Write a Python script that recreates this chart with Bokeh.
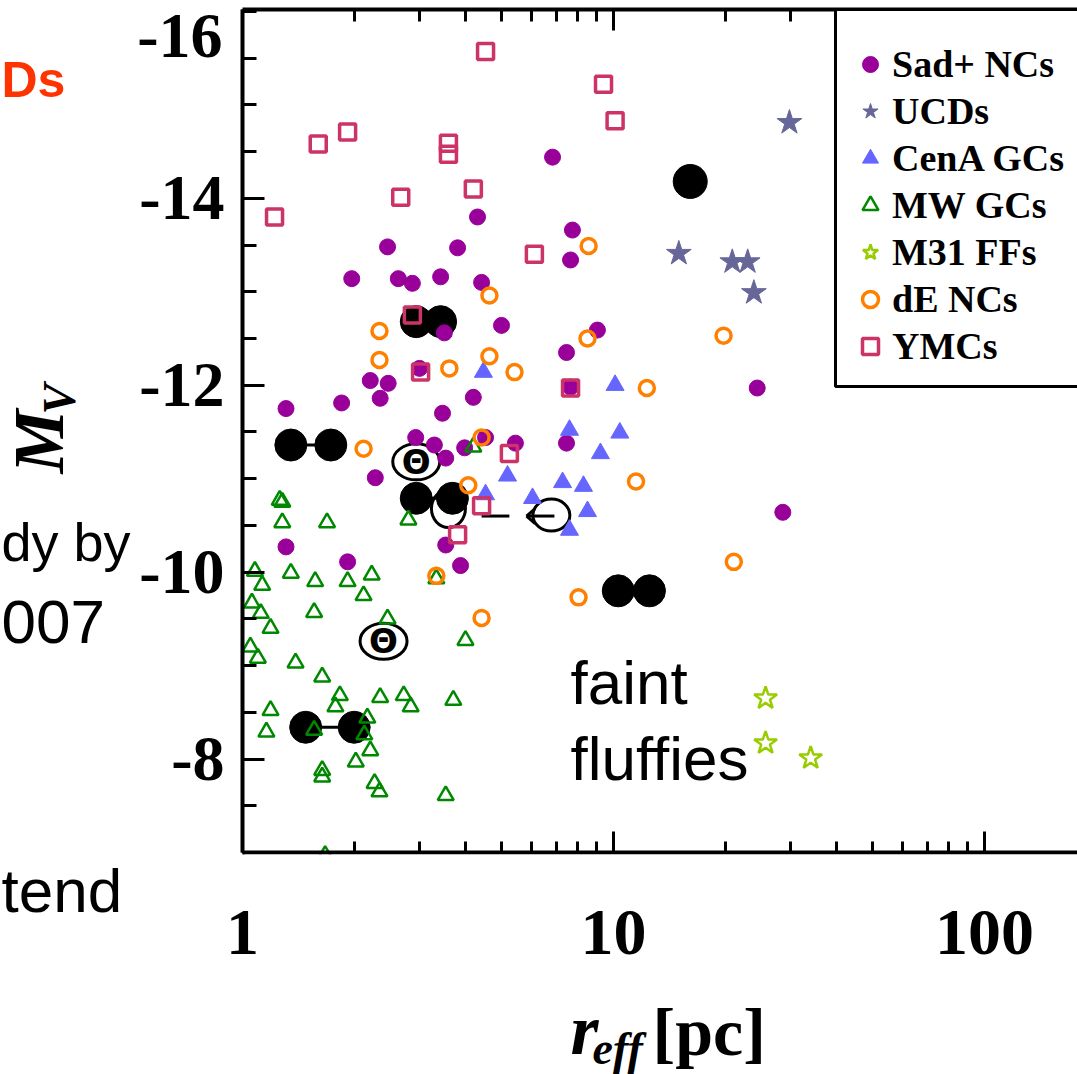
from bokeh.plotting import figure
from bokeh.models import (Range1d, FixedTicker, LogAxis, Label, Legend, LegendItem,
                          BasicTickFormatter, PrintfTickFormatter, BoxAnnotation)
from bokeh.core.properties import value
from bokeh.embed import file_html
from bokeh.resources import INLINE
import math

# ---------------- data (r_eff [pc], M_V) ----------------
sad_r = [6.85, 4.30, 7.75, 2.46, 3.80, 7.66, 1.97, 2.63, 2.87, 3.42, 4.41, 4.99, 3.50, 9.05, 7.47,
         3.00, 7.66, 2.21, 2.47, 2.35, 1.31, 1.85, 4.19, 3.46, 2.93, 3.29, 3.53, 3.97, 4.52, 5.44,
         7.47, 2.28, 3.53, 3.87, 24.4, 28.6, 1.31, 1.92]
sad_m = [-14.44, -13.80, -13.66, -13.48, -13.47, -13.34, -13.14, -13.14, -13.09, -13.16, -13.10,
         -12.64, -12.56, -12.59, -12.35, -12.18, -11.98, -12.05, -12.02, -11.86, -11.75, -11.81,
         -11.87, -11.70, -11.44, -11.36, -11.22, -11.33, -11.44, -11.38, -11.38, -11.01, -10.29,
         -10.07, -11.97, -10.64, -10.27, -10.11]

ucd_r = [29.8, 15.0, 20.9, 23.0, 23.9]
ucd_m = [-14.81, -13.41, -13.32, -13.32, -12.99]

cena_r = [4.46, 10.1, 7.61, 10.4, 9.22, 5.18, 7.29, 8.30, 4.52, 6.05, 8.51, 7.61]
cena_m = [-12.14, -12.00, -11.52, -11.49, -11.27, -11.03, -10.96, -10.92, -10.83, -10.79, -10.65, -10.45]

mw_r = [1.28, 1.26, 1.28, 1.69, 2.80, 4.19, 1.08, 1.13, 1.35, 1.57, 1.92, 2.23, 2.12, 3.33, 1.06,
        1.12, 1.56, 1.19, 2.46, 1.05, 1.10, 1.39, 3.99, 1.64, 1.83, 1.78, 2.35, 2.72, 2.84, 3.70,
        1.19, 1.16, 1.56, 2.17, 2.13, 2.21, 2.02, 1.64, 1.64, 2.27, 2.34, 3.53, 1.67]
mw_m = [-10.75, -10.77, -10.53, -10.53, -10.56, -11.34, -10.01, -9.86, -9.99, -9.90, -9.90, -9.97,
        -9.75, -9.93, -9.67, -9.56, -9.57, -9.40, -9.50, -9.20, -9.08, -9.03, -9.27, -8.88, -8.68,
        -8.56, -8.66, -8.68, -8.56, -8.63, -8.52, -8.29, -8.31, -8.44, -8.26, -8.09, -7.97, -7.88,
        -7.81, -7.74, -7.65, -7.61, -6.97]

m31_r = [25.7, 25.7, 34.0]
m31_m = [-8.65, -8.17, -8.01]

de_r = [8.57, 4.63, 2.34, 8.51, 19.8, 2.34, 3.61, 4.63, 5.41, 2.12, 4.41, 4.06, 12.3, 11.5, 3.33,
        8.05, 4.41, 21.1]
de_m = [-13.49, -12.96, -12.58, -12.50, -12.53, -12.27, -12.18, -12.31, -12.14, -11.32, -11.44,
        -10.93, -11.97, -10.97, -9.96, -9.73, -9.51, -10.11]

ymc_r = [4.52, 9.40, 10.1, 1.60, 1.92, 3.59, 3.59, 1.22, 2.67, 4.19, 6.12, 2.87, 3.02, 7.66, 5.24,
         4.41, 3.80]
ymc_m = [-15.57, -15.22, -14.83, -14.58, -14.71, -14.59, -14.47, -13.80, -14.01, -14.10, -13.40,
         -12.75, -12.14, -11.97, -11.27, -10.71, -10.40]

# model objects (black): connected pairs and a single one
pair_r1 = [1.35, 2.94, 2.94, 10.3, 1.48]
pair_r2 = [1.73, 3.42, 3.68, 12.5, 2.00]
pair_m = [-11.36, -12.68, -10.79, -9.80, -8.34]
single_r = [16.1]
single_m = [-14.18]

theta_r = [2.94, 2.40]
theta_m = [-11.18, -9.26]
arrowc_r = [6.80]
arrowc_m = [-10.61]
hidden_r = [3.59]
hidden_m = [-10.68]
track_r = [4.41, 5.24]
track_m = -10.60
arrow_r = [5.83, 6.93]
head_r = [6.15, 6.15]
head_m = [-10.52, -10.68]

legend_labels = ["Sad+ NCs", "UCDs", "CenA GCs", "MW GCs", "M31 FFs", "dE NCs", "YMCs"]
x_major = [1, 10, 100]
x_minor = [2, 3, 4, 5, 6, 7, 8, 9, 20, 30, 40, 50, 60, 70, 80, 90]
y_major = [-14, -12, -10, -8]
y_minor = [-16.0 + 0.5 * i for i in range(19)]

# ---------------- figure (frame = whole canvas; axes at fixed locations) ----------------
W, H = 1077, 1074
R_MIN, R_MAX = 1.0, 178.1          # plotted box in data units
M_FAINT, M_BRIGHT = -7.0, -16.02
PX_DEC = 371.0                      # px per decade
PX_MAG = 93.459                     # px per magnitude
BOX_L, BOX_T = 242, 9               # box left / top on canvas
x0 = 10 ** (-BOX_L / PX_DEC)
x1 = 10 ** ((W - BOX_L) / PX_DEC)
y_top = M_BRIGHT - BOX_T / PX_MAG
y_bot = M_BRIGHT + (H - BOX_T) / PX_MAG

p = figure(width=W, height=H, x_axis_type="log",
           x_range=Range1d(x0, x1), y_range=Range1d(y_bot, y_top),
           output_backend="svg", toolbar_location=None,
           min_border=0, min_border_left=0, min_border_right=0, min_border_top=0, min_border_bottom=0)
p.outline_line_color = None
p.grid.visible = False
p.background_fill_color = "white"
p.border_fill_color = "white"

serif = "Liberation Serif"
sans = "Liberation Sans"

xa = p.xaxis[0]
xa.fixed_location = M_FAINT
xa.bounds = (R_MIN, R_MAX)
xa.ticker = FixedTicker(ticks=x_major, minor_ticks=x_minor)
xa.formatter = BasicTickFormatter()
xa.axis_line_width = 4
xa.axis_line_color = "black"
xa.major_tick_in = 21
xa.major_tick_out = 0
xa.minor_tick_in = 11
xa.minor_tick_out = 0
xa.major_tick_line_width = 3
xa.minor_tick_line_width = 3
xa.major_label_standoff = 58
xa.major_label_text_font = serif
xa.major_label_text_font_style = "bold"
xa.major_label_text_font_size = "66px"
xa.major_label_text_color = "black"

ya = p.yaxis[0]
ya.fixed_location = R_MIN
ya.bounds = (M_BRIGHT, M_FAINT)
ya.ticker = FixedTicker(ticks=y_major, minor_ticks=y_minor)
ya.formatter = PrintfTickFormatter(format="%d")
ya.axis_line_width = 4
ya.axis_line_color = "black"
ya.major_tick_in = 22
ya.major_tick_out = 0
ya.minor_tick_in = 14
ya.minor_tick_out = 0
ya.major_tick_line_width = 3
ya.minor_tick_line_width = 3
ya.major_label_standoff = 18
ya.major_label_text_font = serif
ya.major_label_text_font_style = "bold"
ya.major_label_text_font_size = "64px"
ya.major_label_text_color = "black"

top = LogAxis(ticker=FixedTicker(ticks=x_major, minor_ticks=x_minor),
              fixed_location=M_BRIGHT, bounds=(R_MIN, R_MAX),
              major_label_text_font_size="1px", major_label_text_color=None,
              major_label_standoff=0,
              axis_line_width=4, axis_line_color="black", major_tick_in=21, major_tick_out=0,
              minor_tick_in=12, minor_tick_out=0,
              major_tick_line_width=3, minor_tick_line_width=3)
p.add_layout(top, "above")

# ---------------- model objects ----------------
p.ellipse(x=hidden_r, y=hidden_m, width=34, height=38, width_units="screen", height_units="screen",
          fill_color=None, line_color="black", line_width=3)
p.segment(x0=pair_r1, y0=pair_m, x1=pair_r2, y1=pair_m, line_color="black", line_width=3)
p.scatter(pair_r1, pair_m, marker="circle", size=32, color="black")
p.scatter(pair_r2, pair_m, marker="circle", size=32, color="black")
p.scatter(single_r, single_m, marker="circle", size=34, color="black")

p.ellipse(x=theta_r, y=theta_m, width=47, height=36, width_units="screen", height_units="screen",
          fill_color=None, line_color="black", line_width=3)
p.text(x=theta_r, y=theta_m, text=["\u0398", "\u0398"], text_align="center", text_baseline="middle",
       text_font=value("DejaVu Sans"), text_font_style="bold", text_font_size=value("34px"),
       text_color="black")
p.ellipse(x=arrowc_r, y=arrowc_m, width=37, height=32, width_units="screen", height_units="screen",
          fill_color=None, line_color="black", line_width=3)
p.line(track_r, [track_m, track_m], line_color="black", line_width=3)
p.line(arrow_r, [track_m, track_m], line_color="black", line_width=3)
p.segment(x0=[arrow_r[0], arrow_r[0]], y0=[track_m, track_m], x1=head_r, y1=head_m,
          line_color="black", line_width=3)

# ---------------- data series ----------------
r_sad = p.scatter(sad_r, sad_m, marker="circle", size=16, color="#990099")
r_ucd = p.scatter(ucd_r, ucd_m, marker="star", size=26, color="#666699")
r_cena = p.scatter(cena_r, cena_m, marker="triangle", size=18, color="#6666FF")
r_mw = p.scatter(mw_r, mw_m, marker="triangle", size=16, fill_color=None,
                 line_color="#008800", line_width=2.5)
r_m31 = p.scatter(m31_r, m31_m, marker="star", size=24, fill_color=None,
                  line_color="#99CC00", line_width=2.5)
r_de = p.scatter(de_r, de_m, marker="circle", size=15, fill_color=None,
                 line_color="#FF8000", line_width=3.5)
r_ymc = p.scatter(ymc_r, ymc_m, marker="square", size=16, fill_color=None,
                  line_color="#CC3366", line_width=3.5)

# mask anything spilling below the bottom axis (the original box clips its points)
p.add_layout(BoxAnnotation(left=BOX_L + 2, right=W, top=H - 854, bottom=H - 880,
                           left_units="screen", right_units="screen",
                           top_units="screen", bottom_units="screen",
                           fill_color="white", fill_alpha=1.0, line_alpha=0.0))

# legend frame, then the legend itself
p.add_layout(BoxAnnotation(left=835, right=W + 30, top=H - 9, bottom=H - 386,
                           left_units="screen", right_units="screen",
                           top_units="screen", bottom_units="screen",
                           fill_color="white", fill_alpha=1.0,
                           line_color="black", line_alpha=1.0, line_width=3))
rends = [r_sad, r_ucd, r_cena, r_mw, r_m31, r_de, r_ymc]
legend = Legend(items=[LegendItem(label=l, renderers=[r]) for l, r in zip(legend_labels, rends)],
                location=(850, H - 368), margin=0, padding=16, spacing=3,
                glyph_width=40, glyph_height=40, label_standoff=2,
                label_text_font=serif, label_text_font_style="bold", label_text_font_size="38px",
                label_text_color="black",
                border_line_color=None, background_fill_alpha=0.0)
p.add_layout(legend)

# ---------------- texts ----------------
SHIFT = 0.39  # bokeh places alphabetic-baseline labels this fraction of the size lower


def lab(text, cx, cy, size, font=sans, style="normal", color="black", align="left",
        baseline="alphabetic", angle=0.0):
    if baseline == "alphabetic":
        if angle:
            cx -= SHIFT * size
        else:
            cy -= SHIFT * size
    p.add_layout(Label(x=cx, y=H - cy, x_units="screen", y_units="screen", text=text,
                       text_font=font, text_font_style=style, text_font_size=f"{size}px",
                       text_color=color, text_align=align, text_baseline=baseline, angle=angle))

lab("faint", 570, 706, 62)
lab("fluffies", 570, 782, 62)
lab("Ds", 1, 99, 50, style="bold", color="#FF3300")
lab("dy by", 1, 563, 54)
lab("007", 1, 646, 62)
lab("tend", 1, 914, 62)
lab("-16", 222, 35, 64, font=serif, style="bold", align="right", baseline="middle")
# axis titles
lab("r", 570, 1058, 72, font=serif, style="bold italic")
lab("eff", 592, 1066, 46, font=serif, style="bold italic")
lab("[pc]", 652, 1058, 68, font=serif, style="bold")
lab("M", 67, 473, 72, font=serif, style="bold italic", angle=math.pi / 2)
lab("V", 77, 414, 46, font=serif, style="bold italic", angle=math.pi / 2)

open("out.html", "w").write(file_html(p, INLINE))
